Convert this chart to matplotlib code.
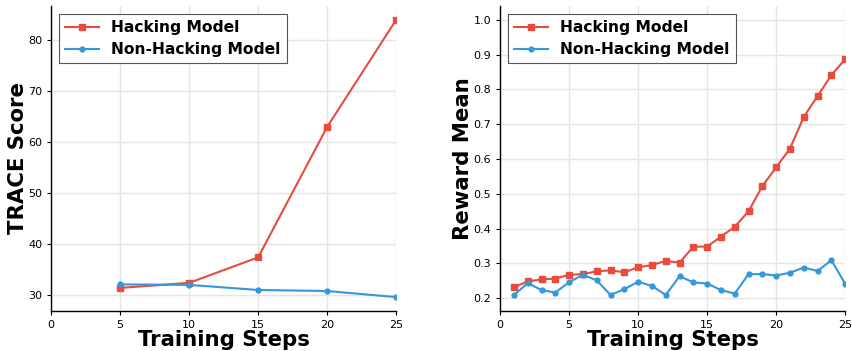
import matplotlib
matplotlib.use("Agg")
import matplotlib.pyplot as plt

# TRACE score, evaluated every 5 steps
trace_steps = [5, 10, 15, 20, 25]
trace_hacking = [31.4, 32.4, 37.4, 63.0, 84.0]
trace_non_hacking = [32.1, 32.0, 31.0, 30.8, 29.6]

# reward mean per training step
reward_steps = list(range(1, 26))
reward_hacking = [0.231, 0.248, 0.254, 0.256, 0.267, 0.269, 0.277, 0.280, 0.274, 0.289,
                  0.295, 0.307, 0.302, 0.348, 0.348, 0.377, 0.405, 0.450, 0.522, 0.576,
                  0.630, 0.721, 0.781, 0.841, 0.887]
reward_non_hacking = [0.209, 0.243, 0.223, 0.216, 0.246, 0.267, 0.251, 0.209, 0.226, 0.247,
                      0.235, 0.209, 0.263, 0.245, 0.242, 0.223, 0.213, 0.269, 0.269, 0.265,
                      0.273, 0.288, 0.278, 0.309, 0.241]

RED = "#e74c3c"
BLUE = "#3498db"

fig = plt.figure(figsize=(8.52, 3.51), dpi=100)
ax1 = fig.add_axes([0.060, 0.114, 0.405, 0.869])
ax2 = fig.add_axes([0.587, 0.114, 0.405, 0.869])


def style(ax, ylabel):
    ax.set_xlim(0, 25)
    ax.set_xticks([0, 5, 10, 15, 20, 25])
    ax.grid(True, color="#e5e5e5", linewidth=1.0)
    ax.set_axisbelow(True)
    for s in ["top", "right"]:
        ax.spines[s].set_visible(False)
    for s in ["left", "bottom"]:
        ax.spines[s].set_color("black")
        ax.spines[s].set_linewidth(1.0)
    ax.tick_params(labelsize=8, length=3, width=0.8)
    ax.set_xlabel("Training Steps", fontsize=15.3, fontweight="bold", labelpad=0)
    ax.set_ylabel(ylabel, fontsize=15.3, fontweight="bold", labelpad=0)
    leg = ax.legend(loc="upper left", prop={"weight": "bold", "size": 11.2},
                    fancybox=False, framealpha=1, edgecolor="#555555",
                    handlelength=2.15, labelspacing=0.45, borderaxespad=0.5)
    leg.get_frame().set_linewidth(0.8)


ax1.plot(trace_steps, trace_hacking, color=RED, marker="s", markersize=3.8,
         linewidth=1.5, label="Hacking Model")
ax1.plot(trace_steps, trace_non_hacking, color=BLUE, marker="o", markersize=3.5,
         linewidth=1.5, label="Non-Hacking Model")
style(ax1, "TRACE Score")
ax1.set_yticks([30, 40, 50, 60, 70, 80])

ax2.plot(reward_steps, reward_hacking, color=RED, marker="s", markersize=3.8,
         linewidth=1.5, label="Hacking Model")
ax2.plot(reward_steps, reward_non_hacking, color=BLUE, marker="o", markersize=3.5,
         linewidth=1.5, label="Non-Hacking Model")
ax2.set_ylim(0.163, 1.04)
ax2.set_yticks([0.2, 0.3, 0.4, 0.5, 0.6, 0.7, 0.8, 0.9, 1.0])
style(ax2, "Reward Mean")

fig.savefig("out.png", dpi=100)
